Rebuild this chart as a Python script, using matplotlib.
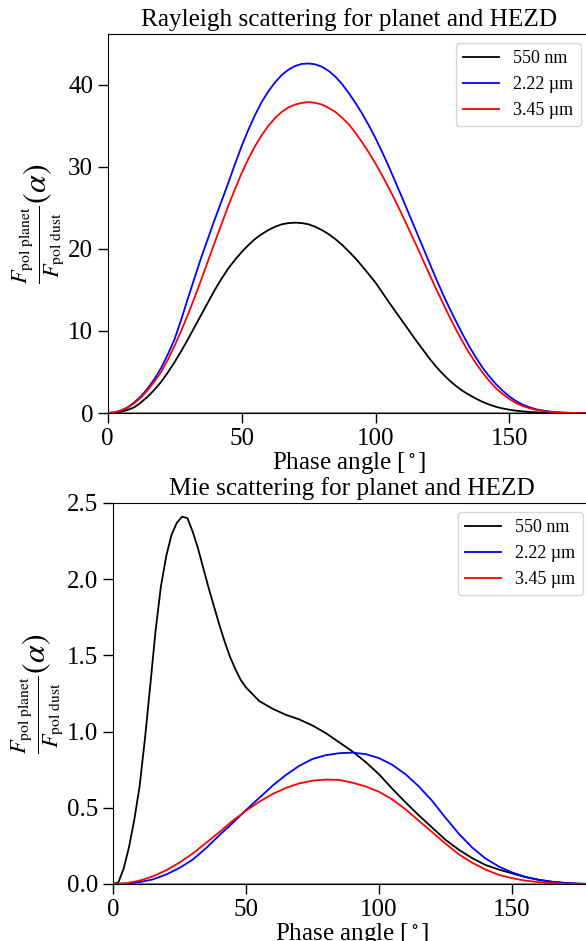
import numpy as np
import matplotlib
matplotlib.use('Agg')
import matplotlib.pyplot as plt

plt.rcParams['font.family'] = ['Liberation Serif', 'DejaVu Serif']
plt.rcParams['mathtext.fontset'] = 'stix'

# Rayleigh scattering (values every 2.5 degrees)
ray_angle = np.arange(0, 180.1, 2.5)
ray_550 = [0, 0.03, 0.15, 0.38, 0.7, 1.3, 2.0, 2.85, 3.8, 4.95, 6.2, 7.55, 9.0, 10.5,
           12.0, 13.5, 15.0, 16.35, 17.6, 18.65, 19.6, 20.45, 21.2, 21.8, 22.3, 22.7,
           23.0, 23.15, 23.2, 23.15, 23.0, 22.7, 22.3, 21.8, 21.2, 20.5, 19.7, 18.85,
           17.9, 16.9, 15.9, 14.7, 13.5, 12.35, 11.2, 10.05, 8.9, 7.8, 6.7, 5.7, 4.8,
           4.0, 3.3, 2.7, 2.2, 1.75, 1.35, 1.02, 0.75, 0.55, 0.4, 0.28, 0.2, 0.13,
           0.08, 0.05, 0.03, 0.02, 0.01, 0.005, 0, 0, 0]
ray_222 = [0, 0.07, 0.3, 0.7, 1.3, 2.05, 3.0, 4.15, 5.5, 7.15, 9.0, 11.4, 14.0, 16.5,
           19.0, 21.3, 23.6, 25.8, 28.0, 30.3, 32.5, 34.5, 36.3, 37.9, 39.2, 40.3,
           41.2, 41.85, 42.3, 42.55, 42.6, 42.5, 42.2, 41.7, 41.0, 40.1, 39.0, 37.8,
           36.5, 35.05, 33.5, 31.8, 30.0, 28.1, 26.2, 24.25, 22.3, 20.35, 18.4, 16.45,
           14.6, 12.85, 11.2, 9.6, 8.1, 6.75, 5.5, 4.45, 3.5, 2.7, 2.0, 1.45, 1.0,
           0.7, 0.45, 0.3, 0.18, 0.1, 0.05, 0.02, 0.01, 0, 0]
ray_345 = [0, 0.07, 0.3, 0.65, 1.2, 1.9, 2.8, 3.85, 5.0, 6.5, 8.2, 10.05, 12.0, 14.1,
           16.3, 18.55, 20.8, 23.0, 25.2, 27.25, 29.2, 30.95, 32.5, 33.85, 35.0, 35.95,
           36.7, 37.25, 37.6, 37.8, 37.9, 37.8, 37.6, 37.2, 36.7, 36.0, 35.2, 34.15,
           33.0, 31.75, 30.4, 28.95, 27.4, 25.8, 24.1, 22.35, 20.6, 18.8, 17.0, 15.2,
           13.5, 11.8, 10.2, 8.7, 7.3, 6.05, 4.9, 3.9, 3.0, 2.3, 1.7, 1.2, 0.85, 0.58,
           0.38, 0.24, 0.14, 0.08, 0.04, 0.02, 0.01, 0, 0]

# Mie scattering
mie_angle_550 = [0, 2, 4, 6, 8, 10, 12, 14, 16, 18, 20, 22, 24, 26, 28, 30, 32, 34, 36,
                 38, 40, 42, 44, 46, 48, 50, 55, 60, 65, 70, 75, 80, 85, 90, 95, 100,
                 105, 110, 115, 120, 125, 130, 135, 140, 145, 150, 155, 160, 165, 170,
                 175, 180]
mie_550 = [0, 0.01, 0.1, 0.24, 0.42, 0.64, 0.95, 1.30, 1.66, 1.95, 2.15, 2.29, 2.37,
           2.41, 2.40, 2.31, 2.20, 2.07, 1.94, 1.82, 1.70, 1.59, 1.49, 1.41, 1.34, 1.29,
           1.20, 1.15, 1.11, 1.08, 1.04, 0.99, 0.93, 0.87, 0.80, 0.72, 0.625, 0.535,
           0.45, 0.37, 0.29, 0.225, 0.17, 0.125, 0.095, 0.07, 0.045, 0.028, 0.015,
           0.007, 0.002, 0]
mie_angle = np.arange(0, 181, 5)
mie_222 = [0, 0.002, 0.012, 0.03, 0.062, 0.105, 0.16, 0.235, 0.32, 0.40, 0.485, 0.565,
           0.645, 0.715, 0.775, 0.82, 0.845, 0.858, 0.862, 0.852, 0.826, 0.782, 0.72,
           0.64, 0.545, 0.435, 0.33, 0.24, 0.168, 0.115, 0.076, 0.047, 0.027, 0.014,
           0.006, 0.002, 0]
mie_345 = [0, 0.005, 0.022, 0.05, 0.09, 0.14, 0.20, 0.27, 0.34, 0.415, 0.48, 0.54,
           0.59, 0.63, 0.66, 0.678, 0.685, 0.683, 0.665, 0.64, 0.605, 0.555, 0.49,
           0.415, 0.34, 0.265, 0.195, 0.14, 0.095, 0.06, 0.038, 0.022, 0.012, 0.005,
           0.002, 0.0005, 0]

labels = ['550 nm', '2.22 µm', '3.45 µm']
colors = ['black', 'blue', 'red']
ylabel = r'$\frac{F_{\rm pol\ planet}}{F_{\rm pol\ dust}}(\alpha)$'

fig = plt.figure(figsize=(5.86, 9.41), dpi=100)
ax1 = fig.add_axes([0.1836, 0.5611, 0.823, 0.4028])
ax2 = fig.add_axes([0.1928, 0.0606, 0.817, 0.4049])

# top: Rayleigh
for y, c, l in zip([ray_550, ray_222, ray_345], colors, labels):
    ax1.plot(ray_angle, y, color=c, lw=1.3, label=l)
ax1.set_xlim(0, 180)
ax1.set_ylim(0, 46.2)
ax1.set_yticks([0, 10, 20, 30, 40])
ax1.set_title('Rayleigh scattering for planet and HEZD', fontsize=18.2)

# bottom: Mie
ax2.plot(mie_angle_550, mie_550, color='black', lw=1.3, label=labels[0])
ax2.plot(mie_angle, mie_222, color='blue', lw=1.3, label=labels[1])
ax2.plot(mie_angle, mie_345, color='red', lw=1.3, label=labels[2])
ax2.set_xlim(0, 180)
ax2.set_ylim(0, 2.5)
ax2.set_yticks([0, 0.5, 1.0, 1.5, 2.0, 2.5])
ax2.set_title('Mie scattering for planet and HEZD', fontsize=18.2)

for ax in [ax1, ax2]:
    ax.axhline(0, color='gray', lw=2, zorder=1.5)
    ax.set_xticks([0, 50, 100, 150])
    ax.set_xlabel(r'Phase angle [$^\circ$]', fontsize=18, labelpad=0)
    ax.set_ylabel(ylabel, fontsize=23, labelpad=1)
    ax.tick_params(direction='out', length=7, width=1, labelsize=18)
    ax.legend(loc='upper right', fontsize=13)

fig.savefig('out.png', dpi=100)
